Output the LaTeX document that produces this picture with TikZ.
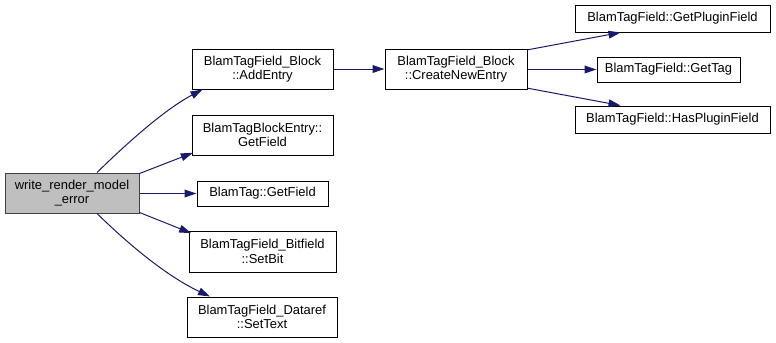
\documentclass[tikz,border=0pt]{standalone}
\usepackage{fontspec}
\setmainfont{Liberation Sans}
\usetikzlibrary{arrows.meta,calc}
\definecolor{edgecol}{RGB}{25,25,112}
\definecolor{rootfill}{RGB}{191,191,191}
\definecolor{rootdraw}{RGB}{64,64,64}
\tikzset{
  fn/.style={draw=black, line width=0.75pt, fill=white, rectangle, inner sep=0pt, align=center,
    font=\fontsize{9.7}{10.7}\selectfont},
  rootfn/.style={fn, fill=rootfill, draw=rootdraw},
  call/.style={draw=edgecol, line width=0.75pt, -{Triangle[length=9pt,width=5.8pt]}, shorten >=0pt}
}
\begin{document}
\begin{tikzpicture}[x=0.75pt,y=-0.75pt]
\useasboundingbox (0,0) rectangle (776,343);
\node[rootfn, minimum width=100.5pt, minimum height=30pt] (root) at (72,193) {write\_render\_model\\\_error};
\node[fn, minimum width=105.75pt, minimum height=30pt] (add) at (262.5,69) {BlamTagField\_Block\\::AddEntry};
\node[fn, minimum width=105.75pt, minimum height=30pt] (bbe) at (262.5,135) {BlamTagBlockEntry::\\GetField};
\node[fn, minimum width=98.25pt, minimum height=18.75pt] (btg) at (262.5,193.5) {BlamTag::GetField};
\node[fn, minimum width=110.25pt, minimum height=30.75pt] (bit) at (262.5,251.5) {BlamTagField\_Bitfield\\::SetBit};
\node[fn, minimum width=112.5pt, minimum height=30pt] (dref) at (262,317) {BlamTagField\_Dataref\\::SetText};
\node[fn, minimum width=106.5pt, minimum height=30pt] (cne) at (456,69) {BlamTagField\_Block\\::CreateNewEntry};
\node[fn, minimum width=146.25pt, minimum height=20.25pt] (gpf) at (672.5,18.5) {BlamTagField::GetPluginField};
\node[fn, minimum width=107.25pt, minimum height=18.75pt] (gt) at (668.5,69.5) {BlamTagField::GetTag};
\node[fn, minimum width=146.25pt, minimum height=20.25pt] (hpf) at (672.5,119.5) {BlamTagField::HasPluginField};

\draw[call] ([xshift=18.75pt]root.north) .. controls (117,153) and (160,112) .. ([xshift=-45pt]add.south);
\draw[call] ([yshift=-0.75pt]root.north east) -- ([xshift=1pt,yshift=2pt]bbe.south west);
\draw[call] (root.east |- btg.west) -- (btg.west);
\draw[call] ([yshift=0.75pt]root.south east) -- ([xshift=2pt,yshift=-2pt]bit.north west);
\draw[call] ([xshift=18.75pt]root.south) .. controls (117,233) and (160,273) .. ([xshift=-39pt]dref.north);
\draw[call] (add.east) -- (cne.west);
\draw[call] ([yshift=-1pt]cne.north east) -- ([xshift=-39pt]gpf.south);
\draw[call] (cne.east |- gt.west) -- (gt.west);
\draw[call] ([yshift=1pt]cne.south east) -- ([xshift=-39pt]hpf.north);
\end{tikzpicture}
\end{document}
